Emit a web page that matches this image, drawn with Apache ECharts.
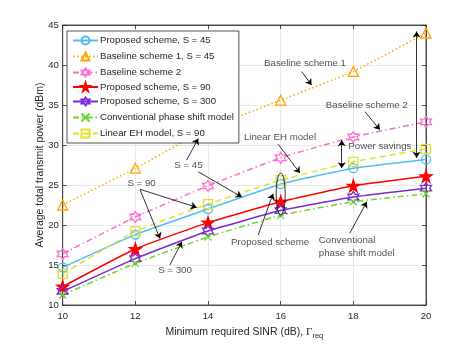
<!DOCTYPE html>
<html>
<head>
<meta charset="utf-8">
<script src="https://cdn.jsdelivr.net/npm/echarts@6/dist/echarts.min.js"></script>
<style>
  html, body { margin: 0; padding: 0; background: #fff; }
  #chart { width: 471px; height: 345px; }
</style>
</head>
<body>
<div id="chart"></div>
<script>
// x values (dB)
const sinrDb = [10, 12, 14, 16, 18, 20]

// average total transmit power (dBm)
const proposedS45 = [14.7, 18.8, 22.0, 25.1, 27.1, 28.2]
const baseline1S45 = [22.5, 27.1, 32.0, 35.6, 39.2, 44.0]
const baseline2 = [16.4, 21.0, 24.9, 28.4, 31.0, 32.9]
const proposedS90 = [12.3, 17.0, 20.3, 22.9, 24.9, 26.1]
const proposedS300 = [11.7, 15.8, 19.25, 21.8, 23.5, 24.6]
const conventional = [11.25, 15.2, 18.5, 21.2, 22.9, 23.9]
const linearEhS90 = [13.9, 19.2, 22.6, 25.6, 27.9, 29.5]

// annotations, in data units
const noteTexts = [
  { name: 'Baseline scheme 1', at: [16.67, 40.25] },
  { name: 'Baseline scheme 2', at: [18.37, 35.0] },
  { name: 'Linear EH model', at: [15.98, 30.96] },
  { name: 'Power savings', at: [18.73, 29.8] },
  { name: 'S = 45', at: [13.46, 27.5] },
  { name: 'S = 90', at: [12.17, 25.2] },
  { name: 'S = 300', at: [13.09, 14.3] },
  { name: 'Proposed scheme', at: [15.71, 17.8] },
  { name: 'Conventional\nphase shift model', at: [17.05, 17.29], align: 'left' }
]
const noteArrows = [
  [[16.58, 39.16], [16.85, 37.5]],
  [[18.32, 34.16], [18.73, 31.9]],
  [[15.93, 30.1], [16.53, 26.5]],
  [[13.41, 28.1], [13.73, 30.8]],
  [[13.73, 26.66], [14.93, 23.5]],
  [[12.13, 24.46], [13.69, 22.2]],
  [[12.13, 24.4], [12.68, 18.3]],
  [[12.95, 15.0], [13.28, 17.9]],
  [[15.38, 18.75], [15.79, 23.9]],
  [[17.9, 18.96], [18.37, 22.9]]
]
const doubleArrows = [
  [[17.68, 30.6], [17.68, 27.1]],
  [[19.74, 44.2], [19.74, 28.4]]
]
// ellipse around the proposed scheme curves at 16 dB: [x, yLow, yHigh]
const ellipseAt = [[16, 21.25, 26.5]]

const FONT = "'Liberation Sans', Arial, Helvetica, sans-serif"
const INK = '#262626'

const HEXAGRAM = 'path://M50,0L64.43,25L93.3,25L78.87,50L93.3,75L64.43,75L50,100L35.57,75L6.7,75L21.13,50L6.7,25L35.57,25Z'
const PENTAGRAM = 'path://M50,0L61.23,34.55L97.55,34.55L68.16,55.9L79.39,90.45L50,69.1L20.61,90.45L31.84,55.9L2.45,34.55L38.77,34.55Z'
const XMARK = 'path://M0,0L100,100M100,0L0,100'

const mkSeries = (name, values, color, symbol, size, lineType, filled) => ({
  name,
  type: 'line',
  data: sinrDb.map((x, i) => [x, values[i]]),
  symbol,
  symbolSize: size,
  smooth: 0.15,
  lineStyle: { color, width: 1.5, type: lineType },
  itemStyle: {
    color: filled ? color : 'none',
    borderColor: color,
    borderWidth: 1.3
  },
  emphasis: { disabled: true },
  z: 3
})

const chart = echarts.init(document.getElementById('chart'))

const option = {
  animation: false,
  backgroundColor: '#fff',
  textStyle: { fontFamily: FONT },
  grid: { left: 62.7, right: 45, top: 25, bottom: 40, show: true, borderColor: INK, borderWidth: 0.8 },
  legend: {
    orient: 'vertical',
    left: 67,
    top: 31,
    padding: [3, 5, 3, 5],
    itemWidth: 25,
    itemHeight: 10,
    itemGap: 3,
    backgroundColor: '#fff',
    borderColor: INK,
    borderWidth: 0.8,
    textStyle: { fontFamily: FONT, fontSize: 9.6, color: INK, padding: [0, 0, 0, -3] },
    data: [
      'Proposed scheme, S = 45',
      'Baseline scheme 1, S = 45',
      'Baseline scheme 2',
      'Proposed scheme, S = 90',
      'Proposed scheme, S = 300',
      'Conventional phase shift model',
      'Linear EH model, S = 90'
    ]
  },
  xAxis: [
    {
      type: 'value', min: 10, max: 20, interval: 2,
      name: 'Minimum required SINR (dB), {g|Γ}{sub|req}',
      nameLocation: 'middle', nameGap: 20, nameMoveOverlap: false,
      nameTextStyle: {
        fontFamily: FONT, fontSize: 10.5, color: INK,
        rich: {
          g: { fontFamily: "'Liberation Serif', serif", fontSize: 11, color: INK },
          sub: { fontFamily: FONT, fontSize: 7.5, color: INK, padding: [7, 0, 0, 0] }
        }
      },
      axisLine: { lineStyle: { color: INK, width: 0.8 } },
      axisTick: { inside: true, length: 4, lineStyle: { color: INK, width: 0.8 } },
      axisLabel: { color: INK, fontSize: 9.5, fontFamily: FONT, margin: 6 },
      splitLine: { lineStyle: { color: '#e3e3e3', width: 0.8 } }
    },
    {
      type: 'value', min: 10, max: 20, interval: 2, position: 'top',
      axisLine: { lineStyle: { color: INK, width: 0.8 } },
      axisTick: { inside: true, length: 4, lineStyle: { color: INK, width: 0.8 } },
      axisLabel: { show: false },
      splitLine: { show: false }
    }
  ],
  yAxis: [
    {
      type: 'value', min: 10, max: 45, interval: 5,
      name: 'Average total transmit power (dBm)',
      nameLocation: 'middle', nameGap: 17, nameMoveOverlap: false,
      nameTextStyle: { fontFamily: FONT, fontSize: 10.5, color: INK },
      axisLine: { lineStyle: { color: INK, width: 0.8 } },
      axisTick: { inside: true, length: 4, lineStyle: { color: INK, width: 0.8 } },
      axisLabel: { color: INK, fontSize: 9.5, fontFamily: FONT, margin: 4 },
      splitLine: { lineStyle: { color: '#e3e3e3', width: 0.8 } }
    },
    {
      type: 'value', min: 10, max: 45, interval: 5, position: 'right',
      axisLine: { lineStyle: { color: INK, width: 0.8 } },
      axisTick: { inside: true, length: 4, lineStyle: { color: INK, width: 0.8 } },
      axisLabel: { show: false },
      splitLine: { show: false }
    }
  ],
  series: [
    mkSeries('Proposed scheme, S = 45', proposedS45, '#4DBEEE', 'circle', 9, 'solid', false),
    mkSeries('Baseline scheme 1, S = 45', baseline1S45, '#FFA500', 'triangle', 10, [1.5, 2.5], false),
    mkSeries('Baseline scheme 2', baseline2, '#FF6ECF', HEXAGRAM, 11, [6, 3, 1.5, 3], false),
    mkSeries('Proposed scheme, S = 90', proposedS90, '#FF0000', PENTAGRAM, 12, 'solid', true),
    mkSeries('Proposed scheme, S = 300', proposedS300, '#7B2AD9', HEXAGRAM, 11, 'solid', false),
    mkSeries('Conventional phase shift model', conventional, '#6BD62C', XMARK, 7, [6, 3, 1.5, 3], false),
    mkSeries('Linear EH model, S = 90', linearEhS90, '#E0E030', 'rect', 9, [6, 4], false),
    {
      type: 'lines',
      coordinateSystem: 'cartesian2d',
      data: noteArrows.map(c => ({ coords: c })),
      symbol: ['none', 'arrow'],
      symbolSize: 6,
      lineStyle: { color: '#000', width: 0.8, opacity: 1 },
      silent: true,
      z: 5
    },
    {
      type: 'lines',
      coordinateSystem: 'cartesian2d',
      data: doubleArrows.map(c => ({ coords: c })),
      symbol: ['arrow', 'arrow'],
      symbolSize: 6,
      lineStyle: { color: '#000', width: 0.8, opacity: 1 },
      silent: true,
      z: 5
    },
    {
      type: 'custom',
      data: ellipseAt,
      silent: true,
      z: 6,
      renderItem: (params, api) => {
        const top = api.coord([api.value(0), api.value(2)])
        const bot = api.coord([api.value(0), api.value(1)])
        return {
          type: 'ellipse',
          shape: { cx: top[0], cy: (top[1] + bot[1]) / 2, rx: 4.5, ry: (bot[1] - top[1]) / 2 },
          style: { fill: 'none', stroke: '#000', lineWidth: 0.8 }
        }
      }
    },
    {
      type: 'scatter',
      symbolSize: 1,
      itemStyle: { color: 'rgba(0,0,0,0)' },
      silent: true,
      z: 7,
      label: {
        show: true,
        position: 'inside',
        formatter: p => p.name,
        color: INK,
        fontFamily: FONT,
        fontSize: 9.7,
        lineHeight: 13.5
      },
      data: noteTexts.map(t => ({
        name: t.name,
        value: t.at,
        label: t.align ? { align: t.align } : undefined
      }))
    }
  ]
}

chart.setOption(option)
</script>
</body>
</html>
